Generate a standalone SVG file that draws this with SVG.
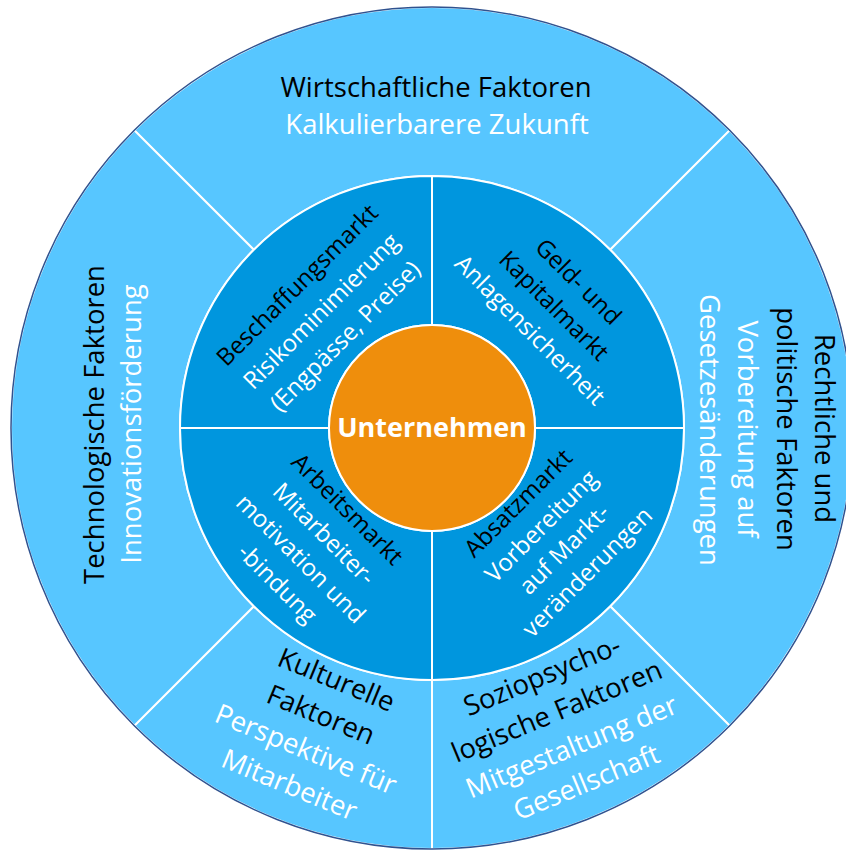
<svg xmlns="http://www.w3.org/2000/svg" width="846" height="850" viewBox="0 0 846 850">
<style>
.outer{fill:#57C6FF;stroke:#FFFFFF;stroke-width:2}
.inner{fill:#0096DE;stroke:#FFFFFF;stroke-width:2}
.core{fill:#EF8E0C;stroke:#FFFFFF;stroke-width:2}
text{font-family:"Open Sans","Noto Sans","Liberation Sans",sans-serif;text-anchor:middle}
.t28{font-size:27.5px}
.t24{font-size:24px}
.k{fill:#000000}
.w{fill:#FFFFFF}
.b{font-weight:bold;font-size:27px;fill:#FFFFFF}
</style>
<rect width="846" height="850" fill="#FFFFFF"/>
<g id="wirtschaftliche">
<path class="outer" d="M134.31,130.31 A421,421 0 0 1 729.69,130.31 L610.19,249.81 A252,252 0 0 0 253.81,249.81 Z"/>
<text class="t28 k" x="436" y="97">Wirtschaftliche Faktoren</text>
<text class="t28 w" x="437" y="134">Kalkulierbarere Zukunft</text>
</g>
<g id="rechtliche">
<path class="outer" d="M729.69,130.31 A421,421 0 0 1 729.69,725.69 L610.19,606.19 A252,252 0 0 0 610.19,249.81 Z"/>
<text class="t28 k" transform="translate(815,428.5) rotate(90)">Rechtliche und</text>
<text class="t28 k" transform="translate(777,429) rotate(90)">politische Faktoren</text>
<text class="t28 w" transform="translate(738,429) rotate(90)">Vorbereitung auf</text>
<text class="t28 w" transform="translate(700,430) rotate(90)">Gesetzesänderungen</text>
</g>
<g id="soziopsychologische">
<path class="outer" d="M729.69,725.69 A421,421 0 0 1 432,849 L432,680 A252,252 0 0 0 610.19,606.19 Z"/>
<text class="t28 k" transform="translate(545.7,684.5) rotate(-22.5)">Soziopsycho-</text>
<text class="t28 k" transform="translate(560.5,720) rotate(-22.5)">logische Faktoren</text>
<text class="t28 w" transform="translate(575.3,755.5) rotate(-22.5)">Mitgestaltung der</text>
<text class="t28 w" transform="translate(590.1,791) rotate(-22.5)">Gesellschaft</text>
</g>
<g id="kulturelle">
<path class="outer" d="M432,849 A421,421 0 0 1 134.31,725.69 L253.81,606.19 A252,252 0 0 0 432,680 Z"/>
<text class="t28 k" transform="translate(332.8,688.5) rotate(22.5)">Kulturelle</text>
<text class="t28 k" transform="translate(317.3,723.5) rotate(22.5)">Faktoren</text>
<text class="t28 w" transform="translate(302.3,758.1) rotate(22.5)">Perspektive für</text>
<text class="t28 w" transform="translate(285.8,793.5) rotate(22.5)">Mitarbeiter</text>
</g>
<g id="technologische">
<path class="outer" d="M134.31,725.69 A421,421 0 0 1 134.31,130.31 L253.81,249.81 A252,252 0 0 0 253.81,606.19 Z"/>
<text class="t28 k" transform="translate(104,424.5) rotate(-90)">Technologische Faktoren</text>
<text class="t28 w" transform="translate(141,424) rotate(-90)">Innovationsförderung</text>
</g>
<circle cx="432" cy="428" r="421" fill="none" stroke="#2F528F" stroke-width="1.5"/>
<g id="beschaffungsmarkt">
<path class="inner" d="M180,428 A252,252 0 0 1 432,176 L432,325 A103,103 0 0 0 329,428 Z"/>
<text class="t24 k" transform="translate(303,291) rotate(-45)">Beschaffungsmarkt</text>
<text class="t24 w" transform="translate(327,317) rotate(-45)">Risikominimierung</text>
<text class="t24 w" transform="translate(351,342) rotate(-45)">(Engpässe, Preise)</text>
</g>
<g id="kapitalmarkt">
<path class="inner" d="M432,176 A252,252 0 0 1 684,428 L535,428 A103,103 0 0 0 432,325 Z"/>
<text class="t24 k" transform="translate(572.5,287.5) rotate(45)">Geld- und</text>
<text class="t24 k" transform="translate(548.2,311.6) rotate(45)">Kapitalmarkt</text>
<text class="t24 w" transform="translate(524.1,335.9) rotate(45)">Anlagensicherheit</text>
</g>
<g id="absatzmarkt">
<path class="inner" d="M684,428 A252,252 0 0 1 432,680 L432,531 A103,103 0 0 0 535,428 Z"/>
<text class="t24 k" transform="translate(524,509) rotate(-45)">Absatzmarkt</text>
<text class="t24 w" transform="translate(547,532) rotate(-45)">Vorbereitung</text>
<text class="t24 w" transform="translate(570,555) rotate(-45)">auf Markt-</text>
<text class="t24 w" transform="translate(593,578) rotate(-45)">veränderungen</text>
</g>
<g id="arbeitsmarkt">
<path class="inner" d="M432,680 A252,252 0 0 1 180,428 L329,428 A103,103 0 0 0 432,531 Z"/>
<text class="t24 k" transform="translate(341.5,515) rotate(45)">Arbeitsmarkt</text>
<text class="t24 w" transform="translate(318.2,539.7) rotate(45)">Mitarbeiter-</text>
<text class="t24 w" transform="translate(294.9,564.5) rotate(45)">motivation und</text>
<text class="t24 w" transform="translate(271.6,589.3) rotate(45)">-bindung</text>
</g>
<g id="unternehmen">
<circle class="core" cx="432" cy="428" r="103"/>
<text class="b" x="432" y="437">Unternehmen</text>
</g>
</svg>
